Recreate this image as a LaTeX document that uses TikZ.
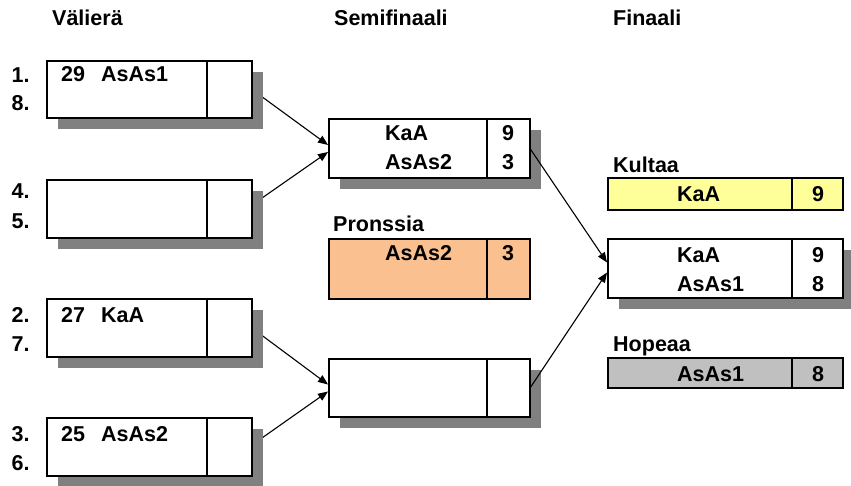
\documentclass[tikz,border=0pt]{standalone}
\usepackage{fontspec}
\setmainfont{Liberation Sans}
\usetikzlibrary{shadows,arrows.meta}
\definecolor{shadowgray}{HTML}{808080}
\definecolor{peach}{HTML}{FBC08F}
\definecolor{lightyellow}{HTML}{FFFF99}
\definecolor{silver}{HTML}{C0C0C0}
\newcommand{\fs}{\fontsize{21.5}{24}\selectfont\bfseries}
\newcommand{\gap}{\hspace{16pt}}
\tikzset{
  box/.style={draw=black, line width=1.5pt, fill=white, anchor=north west, inner sep=0, outer sep=0,
    general shadow={fill=shadowgray, shadow xshift=11pt, shadow yshift=-11pt}},
  medal/.style={draw=black, line width=2.5pt, anchor=north west, inner sep=0, outer sep=0},
  divider/.style={line width=1.5pt},
  thickdivider/.style={line width=2.5pt},
  lbl/.style={anchor=base west, inner sep=0, font=\fs},
  num/.style={anchor=base, inner sep=0, font=\fs},
  conn/.style={line width=1.1pt, -{Triangle[length=10pt,width=8pt]}},
}
\begin{document}
\begin{tikzpicture}[x=1pt,y=-1pt]
\useasboundingbox (0,0) rectangle (851,486);
% headers
\node[lbl] (h1) at (52,25.5) {Välierä};
\node[lbl] (h2) at (334,25.5) {Semifinaali};
\node[lbl] (h3) at (613,25.5) {Finaali};

% connector end points
\coordinate (q1e) at (252,89.5);
\coordinate (q2e) at (252,205);
\coordinate (q3e) at (252,328);
\coordinate (q4e) at (252,445);
\coordinate (s1w) at (328,148.5);
\coordinate (s2w) at (328,388);

\draw[conn] (q1e) -- ([yshift=3.5pt]s1w);
\draw[conn] (q2e) -- ([yshift=-3.5pt]s1w);
\draw[conn] (q3e) -- ([yshift=3.5pt]s2w);
\draw[conn] (q4e) -- ([yshift=-3.5pt]s2w);

\node[box, minimum width=205pt, minimum height=57pt] (q1) at (47,61) {};
\node[box, minimum width=205pt, minimum height=58pt] (q2) at (47,180) {};
\node[box, minimum width=205pt, minimum height=58pt] (q3) at (47,299) {};
\node[box, minimum width=205pt, minimum height=58pt] (q4) at (47,418) {};
\foreach \n in {q1,q2,q3,q4}{
  \draw[divider] ([xshift=-45pt]\n.north east) -- ([xshift=-45pt]\n.south east);
}

% seed labels
\node[lbl] (l1) at (11.5,82.5) {1.};
\node[lbl] (l8) at (11.5,111) {8.};
\node[lbl] (l4) at (11.5,199) {4.};
\node[lbl] (l5) at (11.5,229) {5.};
\node[lbl] (l2) at (11.5,322) {2.};
\node[lbl] (l7) at (11.5,351) {7.};
\node[lbl] (l3) at (11.5,441) {3.};
\node[lbl] (l6) at (11.5,470) {6.};

\node[lbl] (t1) at (61,82) {29\gap AsAs1};
\node[lbl] (t3) at (61,322) {27\gap KaA};
\node[lbl] (t4) at (61,441) {25\gap AsAs2};

% semifinals
\node[box, minimum width=201pt, minimum height=59pt] (s1) at (329,119) {};
\draw[divider] ([xshift=-43pt]s1.north east) -- ([xshift=-43pt]s1.south east);
\node[lbl] (s1a) at (385,141) {KaA};
\node[lbl] (s1b) at (385,170) {AsAs2};
\node[num] (s1x) at (508,141) {9};
\node[num] (s1y) at (508,170) {3};

\node[lbl] (pl) at (333,232) {Pronssia};
\node[medal, fill=peach, minimum width=201pt, minimum height=60pt] (pr) at (329,239) {};
\draw[thickdivider] ([xshift=-43pt]pr.north east) -- ([xshift=-43pt]pr.south east);
\node[lbl] (pra) at (385,261) {AsAs2};
\node[num] (prx) at (508,261) {3};

\node[box, minimum width=201pt, minimum height=58pt] (s2) at (329,359) {};
\draw[divider] ([xshift=-43pt]s2.north east) -- ([xshift=-43pt]s2.south east);

% final
\node[box, minimum width=235pt, minimum height=59pt] (fi) at (608,239) {};
\draw[divider] ([xshift=-51pt]fi.north east) -- ([xshift=-51pt]fi.south east);
\draw[conn] (s1.east) -- ([xshift=-1pt,yshift=6pt]fi.west);
\draw[conn] (s2.east) -- ([xshift=-1pt,yshift=-4pt]fi.west);
\node[lbl] (fa) at (677,262) {KaA};
\node[lbl] (fb) at (677,291) {AsAs1};
\node[num] (fx) at (818,262) {9};
\node[num] (fy) at (818,291) {8};

\node[lbl] (kl) at (613,172.5) {Kultaa};
\node[medal, fill=lightyellow, minimum width=235pt, minimum height=32pt] (ku) at (608,178) {};
\draw[thickdivider] ([xshift=-51pt]ku.north east) -- ([xshift=-51pt]ku.south east);
\node[lbl] (kua) at (677,202) {KaA};
\node[num] (kux) at (818,202) {9};

\node[lbl] (hl) at (613,351) {Hopeaa};
\node[medal, fill=silver, minimum width=235pt, minimum height=30pt] (ho) at (608,358) {};
\draw[thickdivider] ([xshift=-51pt]ho.north east) -- ([xshift=-51pt]ho.south east);
\node[lbl] (hoa) at (677,381) {AsAs1};
\node[num] (hox) at (818,381) {8};
\end{tikzpicture}
\end{document}
